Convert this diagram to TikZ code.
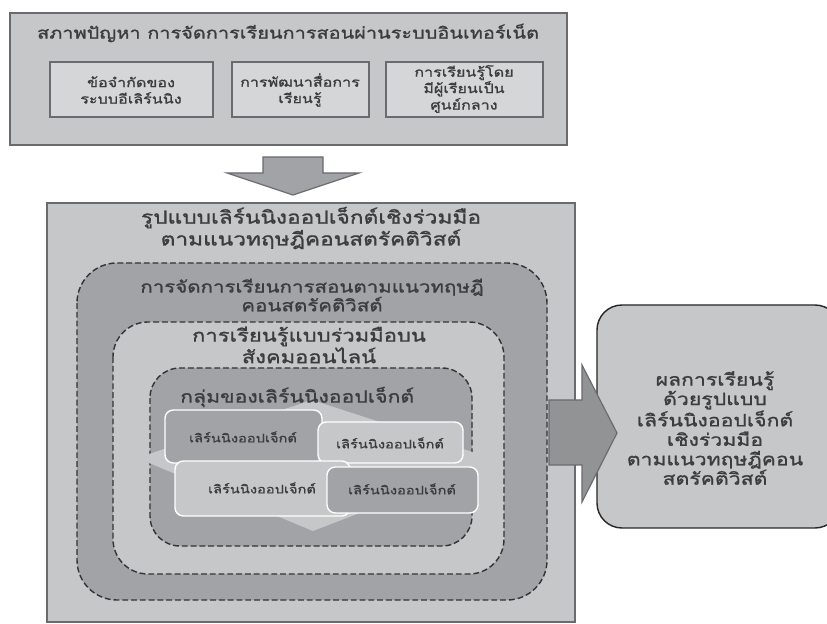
\documentclass[tikz,border=0pt]{standalone}
\usepackage{fontspec}
\newfontfamily\thaifont[Script=Thai, FakeStretch=1.25, FakeBold=1.2]{Loma}
\definecolor{boxgray}{HTML}{C6C7C9}
\definecolor{darkgray}{HTML}{A2A3A6}
\definecolor{palegray}{HTML}{D5D6D8}
\definecolor{edgegray}{HTML}{6A6B6E}
\definecolor{textgray}{HTML}{3C3C3E}
\tikzset{
  thai/.style={font=\thaifont\fontsize{11}{14}\selectfont, text=textgray, align=center, inner sep=0pt},
  headthai/.style={thai, font=\thaifont\fontsize{14}{16}\selectfont},
  smallthai/.style={thai, font=\thaifont\fontsize{10}{12}\selectfont},
  frame/.style={draw=edgegray, line width=1.5pt},
  region/.style={draw=black!80, line width=1.2pt, dash pattern=on 5pt off 2.5pt},
  lobox/.style={draw=white, line width=1.2pt, rounded corners=0.25cm},
}
\begin{document}
\begin{tikzpicture}[x=0.03cm, y=-0.03cm]
\clip (0,0) rectangle (827,624);
\path [fill=white] (0,0) rectangle (827,624);
% problem box with three sub boxes
\path [frame, fill=boxgray] (10,13) rectangle (567,145);
\node [thai, font=\thaifont\fontsize{13.6}{16}\selectfont] (problem) at (288,33) {สภาพปัญหา การจัดการเรียนการสอนผ่านระบบอินเทอร์เน็ต};
\path [frame, fill=palegray] (50,62) rectangle (213,117);
\path [frame, fill=palegray] (232,62) rectangle (369,117);
\path [frame, fill=palegray] (386,62) rectangle (543,117);
\node [thai] (limit) at (131,90) {ข้อจำกัดของ\\ระบบอีเลิร์นนิง};
\node [thai] (media) at (300,90) {การพัฒนาสื่อการ\\เรียนรู้};
\node [thai] (centred) at (464,89) {การเรียนรู้โดย\\มีผู้เรียนเป็น\\ศูนย์กลาง};
% down arrow
\path [draw=edgegray, line width=1pt, fill=darkgray] (263,157) -- (323,157) -- (323,173) -- (359,173) -- (293,195) -- (227,173) -- (263,173) -- cycle;
% model box
\path [frame, fill=boxgray] (47,203) rectangle (575,622);
\node [headthai, font=\thaifont\fontsize{15.5}{15.5}\selectfont] (model) at (311,228) {รูปแบบเลิร์นนิงออปเจ็กต์เชิงร่วมมือ\\ตามแนวทฤษฎีคอนสตรัคติวิสต์};
% nested dashed regions
\path [region, fill=darkgray, rounded corners=1.2cm] (77,263) rectangle (547,600);
\node [headthai] (teaching) at (312,295) {การจัดการเรียนการสอนตามแนวทฤษฎี\\คอนสตรัคติวิสต์};
\path [region, fill=boxgray, rounded corners=1.05cm] (113,322) rectangle (504,574);
\node [headthai, font=\thaifont\fontsize{15}{15}\selectfont] (social) at (309,345) {การเรียนรู้แบบร่วมมือบน\\สังคมออนไลน์};
\path [region, fill=darkgray, rounded corners=0.9cm] (150,368) rectangle (472,546);
% diamond behind the learning objects
\path [fill=boxgray] (312,400) -- (497,460) -- (313,531) -- (137,458) -- cycle;
\node [headthai, font=\thaifont\fontsize{14.5}{16}\selectfont, anchor=west] (group) at (180,397) {กลุ่มของเลิร์นนิงออปเจ็กต์};
\path [lobox, fill=darkgray] (165,410) rectangle (322,463);
\path [lobox, fill=boxgray] (318,422) rectangle (463,463);
\path [lobox, fill=boxgray] (175,461) rectangle (350,516);
\path [lobox, fill=darkgray] (327,467) rectangle (478,513);
\node [smallthai] (lo1) at (243,437) {เลิร์นนิงออปเจ็กต์};
\node [smallthai] (lo2) at (390,443) {เลิร์นนิงออปเจ็กต์};
\node [smallthai] (lo3) at (262,488) {เลิร์นนิงออปเจ็กต์};
\node [smallthai] (lo4) at (402,489) {เลิร์นนิงออปเจ็กต์};
% outcome box
\path [draw=black!85, line width=1.2pt, fill=boxgray, rounded corners=0.75cm] (597,305) rectangle (840,528);
\node [thai, font=\thaifont\fontsize{14.5}{16.6}\selectfont] (outcome) at (715,428) {ผลการเรียนรู้\\ด้วยรูปแบบ\\เลิร์นนิงออปเจ็กต์\\เชิงร่วมมือ\\ตามแนวทฤษฎีคอน\\สตรัคติวิสต์};
% right arrow
\path [draw=edgegray, line width=1pt, fill=darkgray!90!black] (549,400) -- (582,400) -- (582,365) -- (617,433) -- (582,502) -- (582,465) -- (549,465) -- cycle;
\end{tikzpicture}
\end{document}
